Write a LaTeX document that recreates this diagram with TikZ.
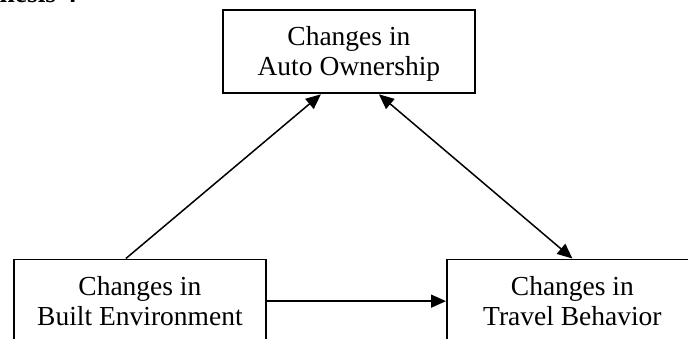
\documentclass[tikz,border=0pt]{standalone}
\usepackage{fontspec}
\setmainfont{Liberation Serif}
\usetikzlibrary{arrows.meta}
\begin{document}
\begin{tikzpicture}[x=1pt,y=-1pt,
  box/.style={draw=black,line width=1.8pt,inner sep=0pt,minimum width=#1,
    align=center,text height=66pt,text depth=17.5pt,
    font=\fontsize{27.5}{30}\selectfont},
  conn/.style={line width=1.5pt,-{Triangle[length=15pt,width=13pt]}},
  dconn/.style={line width=1.5pt,{Triangle[length=15pt,width=13pt]}-{Triangle[length=15pt,width=13pt]}}]
\useasboundingbox (0,0) rectangle (688,339);
\clip (0,0) rectangle (688,339);
\node[anchor=base east,font=\bfseries\fontsize{27.5}{30}\selectfont,inner sep=0pt] (hyp) at (77,3) {hesis 4};
\node[box=252pt,anchor=north west] (ao) at (222,9) {Changes in\\Auto Ownership};
\node[box=252pt,anchor=north west] (be) at (13,258.5) {Changes in\\Built Environment};
\node[box=251pt,anchor=north west] (tb) at (446,258.5) {Changes in\\Travel Behavior};
\draw[conn] ([xshift=-14pt]be.north) -- ([xshift=-28pt]ao.south);
\draw[dconn] ([xshift=30pt]ao.south) -- (tb.north);
\draw[conn] (be.east) -- (tb.west);
\end{tikzpicture}
\end{document}
